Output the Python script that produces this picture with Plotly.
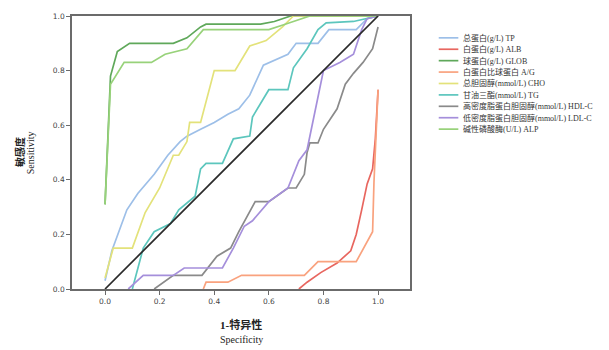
import plotly.graph_objects as go

labels = ["总蛋白(g/L) TP", "白蛋白(g/L) ALB", "球蛋白(g/L) GLOB", "白蛋白比球蛋白 A/G",
          "总胆固醇(mmol/L) CHO", "甘油三酯(mmol/L) TG", "高密度脂蛋白胆固醇(mmol/L) HDL-C",
          "低密度脂蛋白胆固醇(mmol/L) LDL-C", "碱性磷酸酶(U/L) ALP"]
colors = ["#9dbfe8", "#e8665f", "#5fa85a", "#f9a27e", "#e3e27a", "#5cc6bd", "#8a8a8a", "#a58fdb", "#98d27a"]

tp_x = [0, 0.025, 0.08, 0.12, 0.18, 0.23, 0.275, 0.30, 0.35, 0.40, 0.45, 0.49, 0.53, 0.58, 0.67, 0.70, 0.78, 0.82, 0.92, 0.96, 1.0]
tp_y = [0.03, 0.14, 0.29, 0.35, 0.42, 0.49, 0.54, 0.56, 0.585, 0.61, 0.64, 0.66, 0.71, 0.82, 0.86, 0.90, 0.90, 0.95, 0.95, 0.99, 1.0]

alb_x = [0.71, 0.74, 0.79, 0.85, 0.90, 0.92, 0.94, 0.96, 0.98, 0.99, 1.0]
alb_y = [0.0, 0.025, 0.06, 0.095, 0.14, 0.20, 0.29, 0.385, 0.44, 0.55, 0.73]

glob_x = [0, 0.02, 0.045, 0.09, 0.25, 0.30, 0.35, 0.37, 0.57, 0.62, 0.68, 1.0]
glob_y = [0.31, 0.78, 0.87, 0.90, 0.90, 0.92, 0.96, 0.97, 0.97, 0.98, 1.0, 1.0]

ag_x = [0.36, 0.37, 0.45, 0.50, 0.73, 0.78, 0.92, 0.96, 0.98, 0.985, 0.995, 1.0]
ag_y = [0.0, 0.025, 0.025, 0.05, 0.05, 0.10, 0.10, 0.17, 0.21, 0.39, 0.60, 0.73]

cho_x = [0, 0.03, 0.10, 0.147, 0.20, 0.24, 0.25, 0.27, 0.30, 0.31, 0.35, 0.40, 0.476, 0.53, 0.56, 0.59, 0.65, 0.69, 1.0]
cho_y = [0.04, 0.15, 0.15, 0.28, 0.37, 0.47, 0.49, 0.49, 0.54, 0.61, 0.61, 0.80, 0.80, 0.89, 0.90, 0.91, 0.96, 1.0, 1.0]

tg_x = [0.10, 0.11, 0.14, 0.18, 0.24, 0.27, 0.33, 0.35, 0.37, 0.43, 0.47, 0.53, 0.54, 0.60, 0.67, 0.69, 0.74, 0.78, 0.81, 0.91, 0.96, 1.0]
tg_y = [0.0, 0.04, 0.15, 0.21, 0.24, 0.29, 0.34, 0.44, 0.46, 0.46, 0.55, 0.56, 0.63, 0.73, 0.73, 0.81, 0.88, 0.95, 0.975, 0.98, 0.99, 1.0]

hdl_x = [0.18, 0.25, 0.355, 0.41, 0.46, 0.49, 0.55, 0.60, 0.67, 0.70, 0.73, 0.74, 0.75, 0.78, 0.80, 0.85, 0.88, 0.91, 0.945, 0.98, 1.0]
hdl_y = [0.0, 0.05, 0.05, 0.12, 0.15, 0.21, 0.32, 0.32, 0.37, 0.37, 0.42, 0.50, 0.535, 0.535, 0.585, 0.66, 0.75, 0.79, 0.83, 0.88, 0.96]

ldl_x = [0.085, 0.14, 0.25, 0.29, 0.43, 0.47, 0.51, 0.54, 0.60, 0.67, 0.71, 0.74, 0.80, 0.86, 0.91, 0.94, 0.96, 1.0]
ldl_y = [0.0, 0.05, 0.05, 0.077, 0.077, 0.15, 0.23, 0.25, 0.32, 0.37, 0.47, 0.51, 0.80, 0.83, 0.86, 0.95, 0.99, 1.0]

alp_x = [0, 0.02, 0.07, 0.17, 0.22, 0.30, 0.36, 0.37, 0.60, 0.66, 0.75, 1.0]
alp_y = [0.31, 0.75, 0.83, 0.83, 0.86, 0.88, 0.95, 0.95, 0.95, 0.97, 1.0, 1.0]

series_x = [tp_x, alb_x, glob_x, ag_x, cho_x, tg_x, hdl_x, ldl_x, alp_x]
series_y = [tp_y, alb_y, glob_y, ag_y, cho_y, tg_y, hdl_y, ldl_y, alp_y]

ref_x = [0, 1]
ref_y = [0, 1]

x_ticks = [0.0, 0.2, 0.4, 0.6, 0.8, 1.0]
y_ticks = [0.0, 0.2, 0.4, 0.6, 0.8, 1.0]

fig = go.Figure()
for xs, ys, c, name in zip(series_x, series_y, colors, labels):
    fig.add_trace(go.Scatter(x=xs, y=ys, mode="lines", name=name,
                             line=dict(color=c, width=1.7), showlegend=False))
fig.add_trace(go.Scatter(x=ref_x, y=ref_y, mode="lines", line=dict(color="#2a2a2a", width=1.7),
                         showlegend=False))

serif = "Liberation Serif, Noto Sans CJK SC, serif"

axis_common = dict(showgrid=False, zeroline=False, showline=True, linecolor="#6b6b6b",
                   linewidth=1.5, mirror=True, ticks="outside", ticklen=4, tickcolor="#6b6b6b",
                   tickfont=dict(family="DejaVu Sans", size=7.5, color="#444"))
fig.update_xaxes(range=[-0.121, 1.117], tickvals=x_ticks, ticktext=[f"{v:.1f}" for v in x_ticks],
                 **axis_common)
fig.update_yaxes(range=[0, 1], tickvals=y_ticks, ticktext=[f"{v:.1f}" for v in y_ticks],
                 **axis_common)

# legend drawn manually
leg_x0, leg_top, step = 1.085, 0.92, 0.0418
for i, (name, c) in enumerate(zip(labels, colors)):
    yy = leg_top - i * step
    fig.add_shape(type="line", xref="paper", yref="paper", x0=leg_x0, x1=leg_x0 + 0.058,
                  y0=yy, y1=yy, line=dict(color=c, width=1.7))
    fig.add_annotation(xref="paper", yref="paper", x=leg_x0 + 0.066, y=yy, text=name,
                       showarrow=False, xanchor="left", yanchor="middle",
                       font=dict(family=serif, size=8, color="#333"))

fig.add_annotation(xref="paper", yref="paper", x=0.5, y=-0.13, text="<b>1-特异性</b>",
                   showarrow=False, xanchor="center", yanchor="middle",
                   font=dict(family=serif, size=11, color="#222"))
fig.add_annotation(xref="paper", yref="paper", x=0.5, y=-0.185, text="Specificity",
                   showarrow=False, xanchor="center", yanchor="middle",
                   font=dict(family=serif, size=10, color="#222"))
fig.add_annotation(xref="paper", yref="paper", x=-0.155, y=0.5, text="<b>敏感度</b>",
                   showarrow=False, xanchor="center", yanchor="middle", textangle=-90,
                   font=dict(family=serif, size=10, color="#222"))
fig.add_annotation(xref="paper", yref="paper", x=-0.122, y=0.5, text="Sensitivity",
                   showarrow=False, xanchor="center", yanchor="middle", textangle=-90,
                   font=dict(family=serif, size=10, color="#222"))

fig.update_layout(width=609, height=350, margin=dict(l=72, r=199, t=14, b=61),
                  plot_bgcolor="white", paper_bgcolor="white", showlegend=False)

fig.write_html("out.html")
